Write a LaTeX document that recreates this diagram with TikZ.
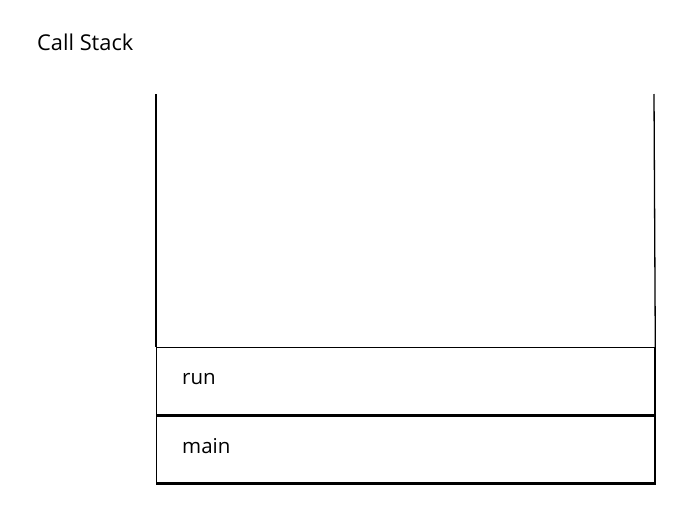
\documentclass[tikz,border=0pt]{standalone}
\usepackage{fontspec}
\setmainfont{Open Sans}
\usetikzlibrary{positioning}

\begin{document}
\begin{tikzpicture}
[x=1pt, y=-1pt, wall/.style={line width=1.3pt}, frame box/.style={draw, line width=1.3pt, minimum width=498pt, minimum height=67pt, anchor=north west, inner sep=0pt}, frame label/.style={font=\fontsize{20.5}{24}\selectfont, inner sep=0pt}, every node/.style={color=black}]
    \useasboundingbox (0,0) rectangle (682,514);
    \coordinate (topL) at (156,94);
    \coordinate (topR) at (654,94);
    \node[frame label, font=\fontsize{21.8}{26}\selectfont, anchor=west] (title) at (37,42) {Call Stack};
    \node[frame box] (run) at (156,347) {};
    \node[frame box, below=0pt of run] (main) {};
    \node[frame label, anchor=west] (runtxt) at (182,379) {run};
    \node[frame label, anchor=west] (maintxt) at (182,446) {main};
    \draw[wall] (topL) -- (run.north west);
    \draw[wall] (topR) -- (run.north east);
    \draw[line width=2pt] (main.south west) -- (main.south east) -- (run.north east);
\end{tikzpicture}
\end{document}
